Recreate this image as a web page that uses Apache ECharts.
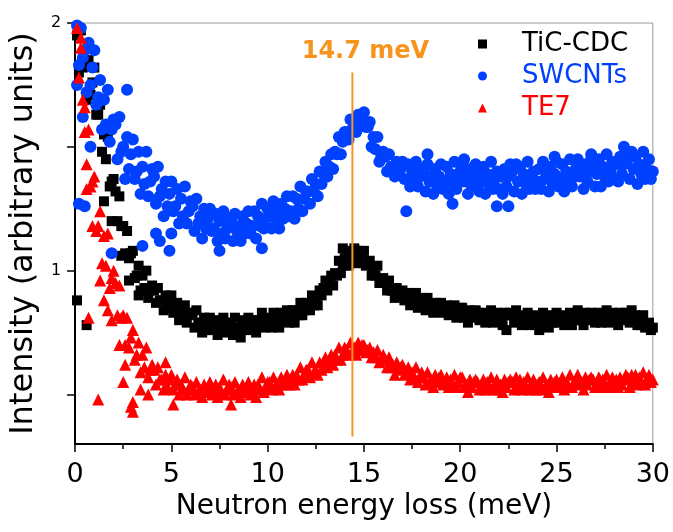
<!DOCTYPE html>
<html>
<head>
<meta charset="utf-8">
<script src="https://cdn.jsdelivr.net/npm/echarts@6/dist/echarts.min.js"></script>
<style>html,body{margin:0;padding:0;background:#fff}#c{width:673px;height:532px}</style>
</head>
<body>
<div id="c"></div>
<script>
const energy = [
0.1,0.2,0.3,0.4,0.5,0.6,0.7,0.8,0.9,1.0, 1.1,1.2,1.3,1.4,1.5,1.6,1.7,1.8,1.9,2.0,
2.1,2.2,2.3,2.4,2.5,2.6,2.7,2.8,2.9,3.0, 3.1,3.2,3.3,3.4,3.5,3.6,3.7,3.8,3.9,4.0,
4.1,4.2,4.3,4.4,4.5,4.6,4.7,4.8,4.9,5.0, 5.1,5.2,5.3,5.4,5.5,5.6,5.7,5.8,5.9,6.0,
6.1,6.2,6.3,6.4,6.5,6.6,6.7,6.8,6.9,7.0, 7.1,7.2,7.3,7.4,7.5,7.6,7.7,7.8,7.9,8.0,
8.1,8.2,8.3,8.4,8.5,8.6,8.7,8.8,8.9,9.0, 9.1,9.2,9.3,9.4,9.5,9.6,9.7,9.8,9.9,10.0,
10.1,10.2,10.3,10.4,10.5,10.6,10.7,10.8,10.9,11.0, 11.1,11.2,11.3,11.4,11.5,11.6,11.7,11.8,11.9,12.0,
12.1,12.2,12.3,12.4,12.5,12.6,12.7,12.8,12.9,13.0, 13.1,13.2,13.3,13.4,13.5,13.6,13.7,13.8,13.9,14.0,
14.1,14.2,14.3,14.4,14.5,14.6,14.7,14.8,14.9,15.0, 15.1,15.2,15.3,15.4,15.5,15.6,15.7,15.8,15.9,16.0,
16.1,16.2,16.3,16.4,16.5,16.6,16.7,16.8,16.9,17.0, 17.1,17.2,17.3,17.4,17.5,17.6,17.7,17.8,17.9,18.0,
18.1,18.2,18.3,18.4,18.5,18.6,18.7,18.8,18.9,19.0, 19.1,19.2,19.3,19.4,19.5,19.6,19.7,19.8,19.9,20.0,
20.1,20.2,20.3,20.4,20.5,20.6,20.7,20.8,20.9,21.0, 21.1,21.2,21.3,21.4,21.5,21.6,21.7,21.8,21.9,22.0,
22.1,22.2,22.3,22.4,22.5,22.6,22.7,22.8,22.9,23.0, 23.1,23.2,23.3,23.4,23.5,23.6,23.7,23.8,23.9,24.0,
24.1,24.2,24.3,24.4,24.5,24.6,24.7,24.8,24.9,25.0, 25.1,25.2,25.3,25.4,25.5,25.6,25.7,25.8,25.9,26.0,
26.1,26.2,26.3,26.4,26.5,26.6,26.7,26.8,26.9,27.0, 27.1,27.2,27.3,27.4,27.5,27.6,27.7,27.8,27.9,28.0,
28.1,28.2,28.3,28.4,28.5,28.6,28.7,28.8,28.9,29.0, 29.1,29.2,29.3,29.4,29.5,29.6,29.7,29.8,29.9,30.0];

const ticCdc = [
1.95,1.80,1.97,1.82,1.83,1.69,1.85,1.71,1.76,1.82, 1.63,1.63,1.67,1.48,1.55,1.45,1.54,1.34,1.36,1.37,
1.32,1.20,1.30,1.18,1.18,1.07,1.16,1.05,1.07,1.08, 0.97,0.98,1.02,0.92,0.98,0.93,1.00,0.89,0.92,0.94,
0.92,0.87,0.93,0.88,0.88,0.84,0.90,0.85,0.87,0.90, 0.83,0.85,0.87,0.80,0.84,0.82,0.86,0.79,0.82,0.83,
0.83,0.77,0.84,0.79,0.79,0.75,0.81,0.76,0.79,0.81, 0.76,0.78,0.80,0.74,0.78,0.76,0.81,0.75,0.77,0.79,
0.79,0.74,0.81,0.76,0.77,0.73,0.80,0.76,0.79,0.81, 0.76,0.78,0.80,0.75,0.80,0.78,0.83,0.77,0.79,0.81,
0.80,0.77,0.83,0.79,0.80,0.77,0.83,0.80,0.82,0.84, 0.79,0.82,0.84,0.79,0.84,0.82,0.87,0.82,0.84,0.87,
0.86,0.84,0.90,0.86,0.88,0.86,0.92,0.90,0.93,0.96, 0.92,0.95,0.98,0.94,0.99,0.98,1.04,0.99,1.02,1.05,
1.05,1.02,1.08,1.04,1.06,1.03,1.08,1.04,1.06,1.08, 1.02,1.03,1.04,0.98,1.01,0.98,1.02,0.95,0.96,0.97,
0.95,0.92,0.96,0.92,0.92,0.89,0.93,0.90,0.91,0.92, 0.88,0.89,0.91,0.86,0.89,0.87,0.91,0.85,0.87,0.89,
0.87,0.84,0.89,0.86,0.86,0.83,0.87,0.84,0.86,0.87, 0.83,0.84,0.86,0.82,0.85,0.83,0.86,0.81,0.83,0.85,
0.85,0.81,0.82,0.79,0.84,0.81,0.83,0.84,0.83,0.80, 0.81,0.83,0.79,0.82,0.80,0.84,0.79,0.81,0.83,0.80,
0.81,0.78,0.83,0.76,0.82,0.83,0.82,0.79,0.84,0.80, 0.82,0.78,0.81,0.79,0.83,0.78,0.80,0.82,0.79,0.80,
0.76,0.78,0.83,0.79,0.80,0.77,0.82,0.79,0.81,0.83, 0.79,0.80,0.82,0.78,0.81,0.79,0.83,0.78,0.80,0.82,
0.84,0.80,0.81,0.78,0.83,0.80,0.82,0.83,0.82,0.79, 0.81,0.83,0.79,0.82,0.80,0.84,0.79,0.81,0.83,0.80,
0.81,0.78,0.83,0.80,0.82,0.83,0.82,0.79,0.84,0.80, 0.82,0.78,0.80,0.78,0.82,0.77,0.78,0.79,0.76,0.77];

const swcnts = [
1.99,1.83,1.98,1.86,1.89,1.72,1.92,1.75,1.82,1.89, 1.67,1.70,1.77,1.57,1.69,1.59,1.73,1.52,1.57,1.61,
1.59,1.45,1.62,1.48,1.50,1.37,1.54,1.41,1.47,1.53, 1.37,1.40,1.48,1.31,1.42,1.35,1.48,1.30,1.36,1.41,
1.38,1.27,1.42,1.30,1.33,1.22,1.36,1.26,1.31,1.36, 1.24,1.26,1.33,1.19,1.29,1.22,1.34,1.19,1.24,1.28,
1.26,1.16,1.29,1.19,1.22,1.13,1.25,1.17,1.21,1.25, 1.16,1.17,1.23,1.12,1.20,1.15,1.24,1.13,1.17,1.21,
1.20,1.12,1.23,1.16,1.18,1.12,1.22,1.15,1.19,1.24, 1.15,1.18,1.24,1.13,1.22,1.18,1.27,1.17,1.21,1.25,
1.24,1.17,1.28,1.21,1.24,1.17,1.27,1.21,1.25,1.30, 1.22,1.24,1.30,1.21,1.29,1.25,1.34,1.24,1.29,1.32,
1.32,1.27,1.37,1.32,1.35,1.30,1.40,1.35,1.39,1.44, 1.38,1.42,1.47,1.41,1.48,1.47,1.54,1.47,1.52,1.56,
1.56,1.53,1.61,1.57,1.59,1.56,1.63,1.59,1.62,1.64, 1.58,1.58,1.60,1.50,1.54,1.49,1.54,1.44,1.46,1.48,
1.46,1.40,1.47,1.42,1.42,1.38,1.44,1.39,1.41,1.44, 1.37,1.24,1.43,1.34,1.40,1.36,1.44,1.34,1.38,1.41,
1.40,1.32,1.43,1.36,1.38,1.31,1.41,1.34,1.38,1.43, 1.33,1.36,1.42,1.31,1.39,1.35,1.44,1.33,1.37,1.40,
1.43,1.36,1.38,1.31,1.41,1.34,1.38,1.43,1.40,1.32, 1.36,1.42,1.31,1.39,1.35,1.44,1.33,1.37,1.40,1.33,
1.38,1.31,1.41,1.34,1.38,1.43,1.40,1.32,1.43,1.36, 1.42,1.31,1.39,1.35,1.44,1.33,1.37,1.40,1.33,1.36,
1.41,1.33,1.44,1.37,1.39,1.32,1.42,1.35,1.39,1.44, 1.34,1.37,1.43,1.32,1.40,1.36,1.45,1.34,1.38,1.41,
1.45,1.38,1.40,1.33,1.43,1.36,1.40,1.45,1.42,1.34, 1.39,1.45,1.34,1.42,1.38,1.47,1.36,1.40,1.44,1.37,
1.43,1.36,1.46,1.39,1.43,1.48,1.45,1.37,1.48,1.41, 1.46,1.35,1.43,1.39,1.48,1.37,1.41,1.45,1.37,1.40];

const te7 = [
1.98,1.78,1.94,1.69,1.66,1.43,1.57,1.34,1.36,1.38, 1.16,1.18,1.24,1.03,1.14,1.02,1.15,0.93,0.97,1.00,
0.95,0.82,0.94,0.81,0.82,0.70,0.81,0.69,0.73,0.76, 0.64,0.66,0.71,0.59,0.66,0.61,0.69,0.57,0.60,0.62,
0.60,0.54,0.61,0.56,0.56,0.52,0.58,0.53,0.56,0.58, 0.52,0.54,0.56,0.50,0.54,0.52,0.57,0.50,0.52,0.54,
0.53,0.50,0.55,0.51,0.52,0.49,0.54,0.51,0.53,0.55, 0.50,0.52,0.54,0.49,0.53,0.51,0.56,0.50,0.52,0.54,
0.53,0.50,0.55,0.51,0.52,0.49,0.54,0.51,0.53,0.55, 0.50,0.52,0.54,0.49,0.54,0.52,0.57,0.51,0.53,0.55,
0.55,0.52,0.57,0.53,0.54,0.52,0.57,0.54,0.56,0.58, 0.54,0.56,0.58,0.54,0.58,0.56,0.61,0.56,0.58,0.60,
0.60,0.57,0.63,0.59,0.60,0.58,0.63,0.60,0.63,0.65, 0.61,0.63,0.66,0.62,0.66,0.64,0.69,0.64,0.66,0.69,
0.68,0.66,0.71,0.67,0.69,0.66,0.71,0.68,0.70,0.70, 0.67,0.68,0.69,0.65,0.67,0.65,0.68,0.63,0.64,0.66,
0.64,0.61,0.65,0.61,0.62,0.58,0.63,0.60,0.61,0.62, 0.58,0.59,0.61,0.56,0.59,0.57,0.61,0.55,0.57,0.59,
0.57,0.54,0.59,0.55,0.56,0.53,0.58,0.55,0.57,0.58, 0.54,0.55,0.57,0.53,0.56,0.54,0.58,0.53,0.55,0.57,
0.57,0.53,0.54,0.51,0.56,0.53,0.55,0.56,0.55,0.52, 0.54,0.56,0.52,0.55,0.53,0.57,0.52,0.54,0.56,0.52,
0.54,0.51,0.56,0.53,0.55,0.56,0.55,0.52,0.57,0.53, 0.56,0.52,0.55,0.53,0.57,0.52,0.54,0.56,0.52,0.54,
0.55,0.52,0.57,0.53,0.54,0.51,0.56,0.53,0.55,0.56, 0.53,0.54,0.57,0.52,0.55,0.54,0.58,0.53,0.55,0.56,
0.58,0.54,0.55,0.52,0.57,0.54,0.56,0.57,0.56,0.53, 0.55,0.57,0.53,0.56,0.54,0.58,0.53,0.55,0.57,0.53,
0.56,0.53,0.57,0.54,0.56,0.58,0.57,0.53,0.58,0.55, 0.58,0.54,0.57,0.55,0.59,0.54,0.56,0.58,0.55,0.56];

// extra scattered points [energy, intensity]
const ticCdcExtra = [[0.1,0.88],[0.6,0.78],[1.5,1.28],[1.9,1.20],[2.4,1.06],[2.8,0.96],[3.3,0.90],[13.9,1.09],[14.5,1.09]];
const swcntsExtra = [[0.1,1.75],[0.2,1.27],[0.4,1.62],[0.5,1.26],[0.8,1.50],[1.9,1.07],[2.7,1.73],[3.5,1.10],[4.2,1.15],[4.4,1.12],
[4.9,1.08],[5.0,1.15],[7.5,1.08],[9.7,1.09],[18.3,1.47],[19.6,1.27],[20.2,1.45],[21.9,1.26],[22.5,1.26],[24.9,1.46],[26.8,1.47],[28.5,1.50]];
const te7Extra = [[0.3,1.90],[0.5,1.56],[0.6,1.33],[0.7,0.81],[0.9,1.18],[1.2,0.48],[1.3,0.96],[1.5,0.88],[1.7,0.84],[1.9,0.80],
[2.3,0.70],[2.5,0.55],[2.6,0.62],[2.9,0.45],[3.0,0.43],[3.0,0.47],[3.4,0.52],[3.8,0.50],[4.7,0.63],[5.1,0.46],[8.1,0.46]];

const xTicks = [0,5,10,15,20,25,30];
const yTickValues = [0.5,1,1.5,2];
const yLabelValues = [1,2];
const peakEnergy = 14.4;
const peakLineRange = [0.33,1.80];
const peakLabel = '14.7 meV';
const seriesNames = ['TiC-CDC','SWCNTs','TE7'];

const FONT = 'DejaVu Sans';
const cBlack = '#000000', cBlue = '#0040ff', cRed = '#ff0000', cOrange = '#f7941d';

function zip(xs, ys, extra){ return xs.map((x,i)=>[x, ys[i]]).concat(extra); }

const chart = echarts.init(document.getElementById('c'), null, {renderer:'canvas'});
chart.setOption({
  animation:false,
  backgroundColor:'#ffffff',
  textStyle:{fontFamily:FONT},
  grid:{left:75, right:20, top:23, bottom:88, show:true, borderColor:'#9a9a9a', borderWidth:1},
  legend:{
    orient:'vertical', left:478, top:31, padding:0, itemGap:6, itemWidth:9, itemHeight:9,
    data:[
      {name:seriesNames[0], icon:'rect', textStyle:{color:cBlack}},
      {name:seriesNames[1], icon:'circle', textStyle:{color:cBlue}},
      {name:seriesNames[2], icon:'triangle', textStyle:{color:cRed}}
    ],
    textStyle:{fontFamily:FONT, fontSize:26, padding:[0,0,0,30]}
  },
  xAxis:{
    type:'value', min:0, max:30, interval:5,
    name:'Neutron energy loss (meV)', nameLocation:'middle', nameGap:49,
    nameTextStyle:{fontFamily:FONT, fontSize:28, color:'#000'},
    axisLine:{show:true, onZero:false, lineStyle:{color:'#000', width:2}},
    axisTick:{show:true, inside:false, length:8, lineStyle:{color:'#000', width:1.5}},
    minorTick:{show:true, splitNumber:2, length:5, lineStyle:{color:'#000', width:1.5}},
    axisLabel:{fontFamily:FONT, fontSize:27, color:'#000', margin:17, customValues:xTicks},
    splitLine:{show:false}, minorSplitLine:{show:false}
  },
  yAxis:{
    type:'value', min:0.3, max:2,
    name:'Intensity (arbitrary units)', nameLocation:'middle', nameGap:31,
    nameTextStyle:{fontFamily:FONT, fontSize:32, color:'#000'},
    axisLine:{show:true, onZero:false, lineStyle:{color:'#000', width:2}},
    axisTick:{show:true, inside:false, length:8, customValues:yTickValues, lineStyle:{color:'#000', width:1.5}},
    axisLabel:{fontFamily:FONT, fontSize:16, color:'#000', margin:14, customValues:yLabelValues},
    splitLine:{show:false}
  },
  series:[
    {name:seriesNames[0], type:'scatter', symbol:'rect', symbolSize:10, itemStyle:{color:cBlack, opacity:1}, data:zip(energy, ticCdc, ticCdcExtra), z:2},
    {name:seriesNames[1], type:'scatter', symbol:'circle', symbolSize:12, itemStyle:{color:cBlue, opacity:1}, data:zip(energy, swcnts, swcntsExtra), z:3},
    {name:seriesNames[2], type:'scatter', symbol:'triangle', symbolSize:12, itemStyle:{color:cRed, opacity:1}, data:zip(energy, te7, te7Extra), z:4},
    {name:'peak', type:'line', symbol:'circle', symbolSize:1, showSymbol:true, silent:true, z:5,
     itemStyle:{color:'rgba(0,0,0,0)'},
     lineStyle:{color:cOrange, width:2},
     data:[[peakEnergy, peakLineRange[0]], {value:[peakEnergy, peakLineRange[1]],
       label:{show:true, position:'top', distance:8, offset:[13,0], formatter:peakLabel,
         fontFamily:FONT, fontSize:24, fontWeight:'bold', color:cOrange}}]}
  ]
});
</script>
</body>
</html>
